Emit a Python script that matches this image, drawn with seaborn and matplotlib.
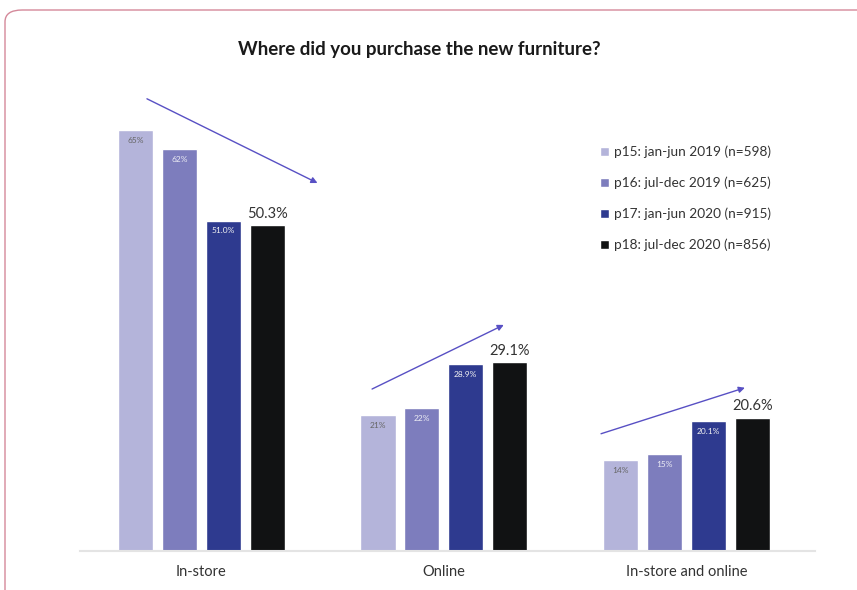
import matplotlib
matplotlib.use("Agg")
import matplotlib.pyplot as plt
from matplotlib.patches import FancyBboxPatch
import seaborn as sns
import pandas as pd

categories = ["In-store", "Online", "In-store and online"]
periods = ["p15: jan-jun 2019 (n=598)", "p16: jul-dec 2019 (n=625)",
           "p17: jan-jun 2020 (n=915)", "p18: jul-dec 2020 (n=856)"]
p15 = [65, 21, 14]
p16 = [62, 22, 15]
p17 = [51.0, 28.9, 20.1]
p18 = [50.3, 29.1, 20.6]
labels_p15 = ["65%", "21%", "14%"]
labels_p16 = ["62%", "22%", "15%"]
labels_p17 = ["51.0%", "28.9%", "20.1%"]
labels_p18 = ["50.3%", "29.1%", "20.6%"]
colors = ["#b4b4da", "#7d7dbd", "#2e3a8f", "#111213"]
# trend arrows per category: (x offset start, y start, x offset end, y end)
arrows = [(-0.224, 69.8, 0.479, 56.8),
          (-0.296, 25.0, 0.247, 34.9),
          (-0.352, 18.1, 0.241, 25.2)]

series = [p15, p16, p17, p18]
rows = []
for per, vals in zip(periods, series):
    for cat, v in zip(categories, vals):
        rows.append({"category": cat, "period": per, "value": v})
df = pd.DataFrame(rows)

sns.set_style("white")
plt.rcParams["font.family"] = ["Lato", "DejaVu Sans"]

fig = plt.figure(figsize=(8.57, 5.9), dpi=100)
ax = fig.add_axes([80 / 857, 1 - 551 / 590, 735 / 857, 471 / 590])

sns.barplot(data=df, x="category", y="value", hue="period", palette=colors,
            width=0.724, gap=0.2, ax=ax, saturation=1, legend=True)

ax.set_xlim(-0.5, 2.53)
ax.set_ylim(0, 72.7)
ax.set_xlabel("")
ax.set_ylabel("")
ax.set_yticks([])
ax.tick_params(axis="x", length=0, pad=10, labelsize=10.5, labelcolor="#333333")
for s in ["top", "right", "left"]:
    ax.spines[s].set_visible(False)
ax.spines["bottom"].set_color("#e4e4e4")
ax.spines["bottom"].set_linewidth(1.5)

label_sets = [labels_p15, labels_p16, labels_p17, labels_p18]
inner_colors = ["#666666", "#ececf4", "#f2f2f2"]
for i, cont in enumerate(ax.containers):
    if i < 3:
        ax.bar_label(cont, labels=label_sets[i], padding=-10, fontsize=6,
                     color=inner_colors[i])
    else:
        ax.bar_label(cont, labels=label_sets[i], padding=3, fontsize=10.5,
                     color="#333333")

for gi, (xs, ys, xe, ye) in enumerate(arrows):
    ax.annotate("", xy=(gi + xe, ye), xytext=(gi + xs, ys),
                arrowprops=dict(arrowstyle="-|>", color="#5850c4", lw=1.0,
                                mutation_scale=9, shrinkA=0, shrinkB=0))

leg = ax.legend(loc="upper left", bbox_to_anchor=(595 / 857, 1 - 140 / 590),
                bbox_transform=fig.transFigure, frameon=False, fontsize=9.8,
                handlelength=0.65, handleheight=0.65, handletextpad=0.35,
                labelspacing=1.36, borderaxespad=0)
for t in leg.get_texts():
    t.set_color("#333333")

fig.text(419 / 857, 1 - 49 / 590, "Where did you purchase the new furniture?",
         ha="center", va="center", fontsize=13.5, fontweight="bold",
         color="#1a1a1a")

border = FancyBboxPatch((5 / 857, -0.2), 1.2, 1 - 10 / 590 + 0.2,
                        boxstyle="round,pad=0,rounding_size=0.02",
                        transform=fig.transFigure, fill=False,
                        edgecolor="#d4899a", linewidth=1.0)
fig.patches.append(border)

fig.savefig("out.png", dpi=100)
